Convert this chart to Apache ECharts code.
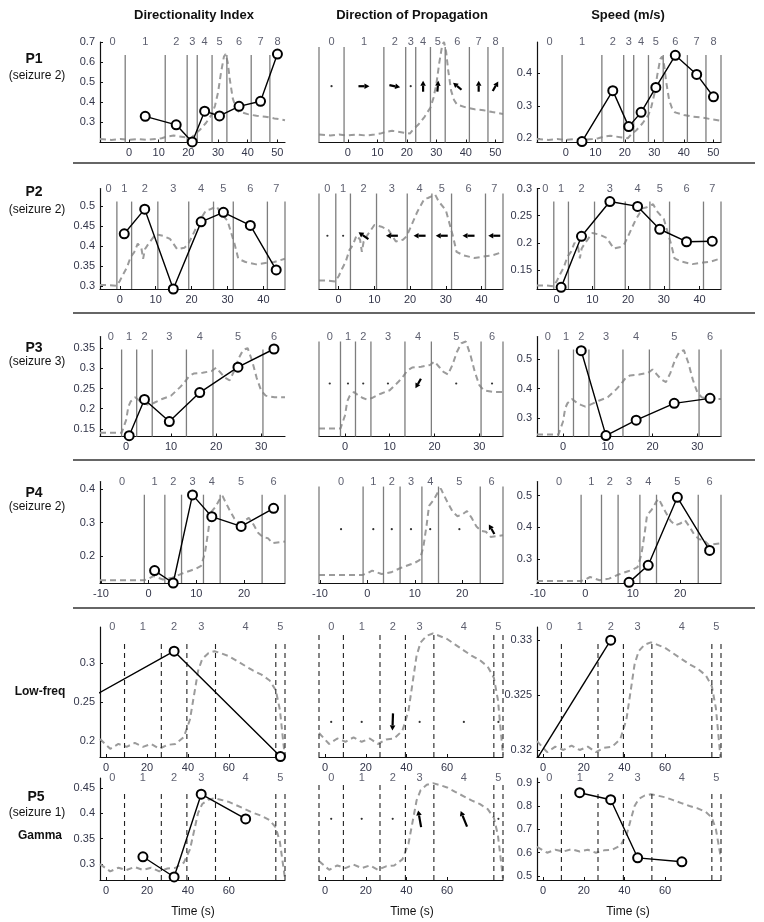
<!DOCTYPE html>
<html><head><meta charset="utf-8"><title>chart</title>
<script src="https://cdn.jsdelivr.net/npm/echarts@6.0.0/dist/echarts.min.js"></script>
<style>html,body{margin:0;padding:0;background:#fff;}#chart{width:764px;height:922px;}</style>
</head><body><div id="chart"></div>
<script>
// ================= DATA =================
// ---- P1 (seizure 2) ----
const P1_range = [-9.8, 52.6];
const P1_xticks = [0, 10, 20, 30, 40, 50];
const P1_bounds = [-1.3, 12.2, 19.6, 23.0, 28.0, 33.0, 41.2, 47.5];
const P1_di = [null, 0.33, 0.288, 0.203, 0.356, 0.332, 0.38, 0.405, 0.64];
const P1_speed = [null, 0.19, 0.347, 0.236, 0.28, 0.357, 0.456, 0.397, 0.328];
const P1_dirAngle = [null, 0, -12, null, 90, 85, 140, 90, 60];
const P1_powT = [-9.8,-6,-3,0,3,6,9,11,13,15,17,19,21,22,24,26,28,29,30,31,32,32.6,33.3,34,35,36,37,40,43,46,49,52.6];
const P1_pow  = [0.01,0,0.01,0,0.01,0,0.01,0.02,0.04,0.05,0.04,0.03,0.02,0.06,0.12,0.2,0.3,0.4,0.55,0.78,0.97,1,0.9,0.7,0.48,0.38,0.33,0.3,0.28,0.27,0.25,0.23];
const P1_diAxis = [0.2, 0.7], P1_diTicks = [0.3, 0.4, 0.5, 0.6, 0.7];
const P1_spAxis = [0.187, 0.497], P1_spTicks = [0.2, 0.3, 0.4];
const P1_powOnDI = [0.213, 0.64], P1_powOnSp = [0.195, 0.452], P1_powOnDir = [0.07, 1.0];

// ---- P2 (seizure 2) ----
const P2_range = [-5.5, 46];
const P2_xticks = [0, 10, 20, 30, 40];
const P2_bounds = [-0.8, 3.3, 10.6, 19.2, 26.1, 31.6, 41.1];
const P2_di = [null, 0.431, 0.493, 0.292, 0.461, 0.485, 0.452, 0.34];
const P2_speed = [null, 0.118, 0.212, 0.276, 0.267, 0.225, 0.202, 0.203];
const P2_dirAngle = [null, null, 145, 180, 180, 180, 180, 180];
const P2_powT = [-5.5,-3,-1,0,1,2,3,4,5,6,6.5,7,8,10,12,14,16,18,19,20,22,24,25,27,28,30,31,32,33,35,38,41,43,46];
const P2_pow  = [0.01,0.01,0,0.06,0.15,0.23,0.36,0.42,0.53,0.48,0.34,0.46,0.53,0.65,0.63,0.59,0.46,0.48,0.52,0.61,0.8,0.95,0.96,1,0.92,0.82,0.67,0.52,0.34,0.3,0.27,0.29,0.3,0.34];
const P2_diAxis = [0.292, 0.545], P2_diTicks = [0.3, 0.35, 0.4, 0.45, 0.5];
const P2_spAxis = [0.115, 0.3], P2_spTicks = [0.15, 0.2, 0.25, 0.3];
const P2_powOnDI = [0.3, 0.5], P2_powOnSp = [0.12, 0.271], P2_powOnDir = [0.075, 0.94];

// ---- P3 (seizure 3) ----
const P3_range = [-5.8, 35.3];
const P3_xticks = [0, 10, 20, 30];
const P3_bounds = [-1.0, 2.35, 5.8, 13.4, 19.3, 30.4];
const P3_di = [null, 0.133, 0.223, 0.168, 0.24, 0.303, 0.348];
const P3_speed = [null, null, 0.528, 0.241, 0.293, 0.35, 0.367];
const P3_dirAngle = [null, null, null, null, 240, null, null];
const P3_powT = [-5.8,-3,-1,0,0.5,1,2,3,4,5,6,8,10,12,13,14,15,17,19,20,21,22,23,24,25,26,27,28,29,30,31,33,35.3];
const P3_pow  = [0,0,0,0.15,0.31,0.37,0.42,0.38,0.35,0.33,0.35,0.40,0.44,0.54,0.60,0.67,0.70,0.71,0.73,0.77,0.71,0.65,0.62,0.73,0.88,0.98,1.0,0.85,0.65,0.5,0.44,0.42,0.42];
const P3_diAxis = [0.131, 0.379], P3_diTicks = [0.15, 0.2, 0.25, 0.3, 0.35];
const P3_spAxis = [0.238, 0.576], P3_spTicks = [0.3, 0.4, 0.5];
const P3_powOnDI = [0.14, 0.35], P3_powOnSp = [0.245, 0.53], P3_powOnDir = [0.08, 0.95];

// ---- P4 (seizure 2) ----
const P4_range = [-10.2, 28.6];
const P4_xticks = [-10, 0, 10, 20];
const P4_bounds = [-0.9, 3.4, 6.9, 11.5, 15.0, 23.8];
const P4_di = [null, 0.157, 0.12, 0.383, 0.318, 0.289, 0.343];
const P4_speed = [null, null, null, 0.226, 0.28, 0.495, 0.327];
const P4_dirAngle = [null, null, null, null, null, null, 120];
const P4_powT = [-10.2,-6,-3,-1,0,1,3,5,7,9,10,11,11.8,12.5,13,14,15,15.5,16,17,18,19,20,21,22,23,24,25,26,28.6];
const P4_pow  = [0,0,0,0,0.02,0.05,0.01,0.03,0.08,0.12,0.14,0.17,0.32,0.58,0.8,0.87,0.97,1.0,0.94,0.83,0.73,0.68,0.7,0.74,0.66,0.56,0.51,0.5,0.44,0.46];
const P4_diAxis = [0.12, 0.423], P4_diTicks = [0.2, 0.3, 0.4];
const P4_spAxis = [0.224, 0.545], P4_spTicks = [0.3, 0.4, 0.5];
const P4_powOnDI = [0.128, 0.38], P4_powOnSp = [0.23, 0.49], P4_powOnDir = [0.08, 0.93];

// ---- P5 (seizure 1) ----
const P5_range = [-3, 87.5];
const P5_segStart = -25;          // segment 0 begins before the visible window
const P5_xticks = [0, 20, 40, 60];
const P5_bounds = [9, 27, 39.5, 53.5, 83];
const P5_powT = [-3,2,6,10,14,18,22,26,30,34,38,41,43,45,47,50,53,56,60,64,68,72,76,80,83,85,86.5,87.5];
const P5_pow  = [0.1,0.0,0.05,0.02,0.06,0.02,0.05,0.0,0.04,0.05,0.12,0.3,0.55,0.8,0.92,0.98,1.0,0.98,0.95,0.9,0.85,0.8,0.76,0.7,0.6,0.4,0.1,-0.1];
// Low-freq
const LF_di = [0.255, null, 0.315, null, null, 0.18];
const LF_speed = [0.3177, null, 0.33, null, null, null];
const LF_dirAngle = [null, null, 268, null, null, null];
const LF_diAxis = [0.1795, 0.346], LF_diTicks = [0.2, 0.25, 0.3];
const LF_spAxis = [0.31936, 0.3312], LF_spTicks = [0.32, 0.325, 0.33];
const LF_powOnDI = [0.19, 0.315], LF_powOnSp = [0.3198, 0.3298], LF_powOnDir = [0.1, 0.95];
// Gamma
const GA_di = [null, 0.314, 0.274, 0.438, 0.389, null];
const GA_speed = [null, 0.857, 0.827, 0.578, 0.561, null];
const GA_dirAngle = [null, null, null, 100, 112, null];
const GA_diAxis = [0.268, 0.47], GA_diTicks = [0.3, 0.35, 0.4, 0.45];
const GA_spAxis = [0.483, 0.92], GA_spTicks = [0.5, 0.6, 0.7, 0.8, 0.9];
const GA_powOnDI = [0.285, 0.43], GA_powOnSp = [0.6, 0.85], GA_powOnDir = [0.1, 0.95];

// ================= BUILD =================
const ROWS = [
  {range:P1_range, xt:P1_xticks, bounds:P1_bounds, di:P1_di, sp:P1_speed, dir:P1_dirAngle, powT:P1_powT, pow:P1_pow,
   diAxis:P1_diAxis, diTicks:P1_diTicks, spAxis:P1_spAxis, spTicks:P1_spTicks, pDI:P1_powOnDI, pSp:P1_powOnSp, pDir:P1_powOnDir},
  {range:P2_range, xt:P2_xticks, bounds:P2_bounds, di:P2_di, sp:P2_speed, dir:P2_dirAngle, powT:P2_powT, pow:P2_pow,
   diAxis:P2_diAxis, diTicks:P2_diTicks, spAxis:P2_spAxis, spTicks:P2_spTicks, pDI:P2_powOnDI, pSp:P2_powOnSp, pDir:P2_powOnDir},
  {range:P3_range, xt:P3_xticks, bounds:P3_bounds, di:P3_di, sp:P3_speed, dir:P3_dirAngle, powT:P3_powT, pow:P3_pow,
   diAxis:P3_diAxis, diTicks:P3_diTicks, spAxis:P3_spAxis, spTicks:P3_spTicks, pDI:P3_powOnDI, pSp:P3_powOnSp, pDir:P3_powOnDir},
  {range:P4_range, xt:P4_xticks, bounds:P4_bounds, di:P4_di, sp:P4_speed, dir:P4_dirAngle, powT:P4_powT, pow:P4_pow,
   diAxis:P4_diAxis, diTicks:P4_diTicks, spAxis:P4_spAxis, spTicks:P4_spTicks, pDI:P4_powOnDI, pSp:P4_powOnSp, pDir:P4_powOnDir},
  {range:P5_range, segStart:P5_segStart, xt:P5_xticks, bounds:P5_bounds, di:LF_di, sp:LF_speed, dir:LF_dirAngle, powT:P5_powT, pow:P5_pow, dashed:true,
   diAxis:LF_diAxis, diTicks:LF_diTicks, spAxis:LF_spAxis, spTicks:LF_spTicks, pDI:LF_powOnDI, pSp:LF_powOnSp, pDir:LF_powOnDir},
  {range:P5_range, segStart:P5_segStart, xt:P5_xticks, bounds:P5_bounds, di:GA_di, sp:GA_speed, dir:GA_dirAngle, powT:P5_powT, pow:P5_pow, dashed:true,
   diAxis:GA_diAxis, diTicks:GA_diTicks, spAxis:GA_spAxis, spTicks:GA_spTicks, pDI:GA_powOnDI, pSp:GA_powOnSp, pDir:GA_powOnDir}
];

// layout (pixels / fractions)
const ROW_TB = [[42,142.5],[188.5,289],[336.5,436.5],[481.5,583],[627,757],[778,880]];
const ARROW_LEVEL = [0.56, 0.53, 0.53, 0.53, 0.27, 0.6];
const ARROW_LEN = [11, 12, 11, 11, 17, 17];
const COL1_RIGHT_EDGE = [false, true, false, true, true, true];
const COL_L = [100, 319, 537];
const COL_W = [185, 184, 184];
const FONT = "'Liberation Sans', Arial, sans-serif";
const TXT = '#33364a';

const option = {animation:false, backgroundColor:'#fff', grid:[], xAxis:[], yAxis:[], series:[], graphic:[]};

function segMids(start, end, bounds){
  const e = [start, ...bounds, end];
  const m = [];
  for (let i=0;i<e.length-1;i++) m.push((e[i]+e[i+1])/2);
  return m;
}

function arrowRenderer(L){
  return function(params, api){
    const p = api.coord([api.value(0), api.value(1)]);
    const a = api.value(2)*Math.PI/180;
    const hl = 5, hw = 2.8;
    const dx = Math.cos(a), dy = -Math.sin(a);
    const x1 = p[0]-dx*L/2, y1 = p[1]-dy*L/2, x2 = p[0]+dx*L/2, y2 = p[1]+dy*L/2;
    const bx = x2-dx*hl, by = y2-dy*hl, nx = -dy, ny = dx;
    return {type:'group', children:[
      {type:'line', shape:{x1:x1,y1:y1,x2:bx,y2:by}, style:{stroke:'#000', lineWidth:2.2}},
      {type:'polygon', shape:{points:[[x2,y2],[bx+nx*hw,by+ny*hw],[bx-nx*hw,by-ny*hw]]}, style:{fill:'#000'}}
    ]};
  };
}

function vlineItem(dashed){
  return function(params, api){
    const a = api.coord([api.value(0), api.value(1)]);
    const b = api.coord([api.value(0), api.value(2)]);
    return {type:'line', shape:{x1:a[0],y1:a[1],x2:b[0],y2:b[1]},
      style:{stroke: dashed ? '#222' : '#7d7d7d', lineWidth: dashed ? 1.1 : 1.3, lineDash: dashed ? [5,4] : null}};
  };
}

function addPanel(ri, col){
  const r = ROWS[ri];
  const tb = ROW_TB[ri];
  const gi = option.grid.length;
  const isDir = col === 1;
  option.grid.push({left:COL_L[col], top:tb[0], width:COL_W[col], height:tb[1]-tb[0]});
  option.xAxis.push({type:'value', gridIndex:gi, min:r.range[0], max:r.range[1],
    axisLine:{show:true, onZero:false, lineStyle:{color:'#111', width:1.2}},
    axisTick:{show:true, inside:true, length:3, customValues:r.xt, lineStyle:{color:'#111'}},
    axisLabel:{show:true, customValues:r.xt, fontSize:11, color:TXT, margin:5, fontFamily:FONT},
    splitLine:{show:false}});
  const yr = isDir ? [0,1] : (col===0 ? r.diAxis : r.spAxis);
  const yt = isDir ? [] : (col===0 ? r.diTicks : r.spTicks);
  const yi = option.yAxis.length;
  option.yAxis.push({type:'value', gridIndex:gi, min:yr[0], max:yr[1], show:!isDir,
    axisLine:{show:true, onZero:false, lineStyle:{color:'#111', width:1.2}},
    axisTick:{show:true, inside:true, length:3, customValues:yt, lineStyle:{color:'#111'}},
    axisLabel:{show:true, customValues:yt, fontSize:11, color:TXT, margin:5, fontFamily:FONT, formatter:v=>String(v)},
    splitLine:{show:false}});
  const pm = col===0 ? r.pDI : (isDir ? r.pDir : r.pSp);
  const k = pm[1]-pm[0];
  option.yAxis.push({type:'value', gridIndex:gi, show:false, min:(yr[0]-pm[0])/k, max:(yr[1]-pm[0])/k,
    axisLine:{onZero:false}, splitLine:{show:false}});

  // dashed power curve
  option.series.push({type:'line', xAxisIndex:gi, yAxisIndex:yi+1, data:r.powT.map((t,i)=>[t, r.pow[i]]),
    symbol:'none', silent:true, z:1, lineStyle:{color:'#9b9b9b', width:2, type:[6,4]}});

  // segment boundaries
  const topFrac = isDir ? 0.95 : 0.87;
  const yTop = yr[0] + topFrac*(yr[1]-yr[0]);
  let edges;
  if (isDir) edges = [r.range[0], r.range[1]];
  else if (col === 0) edges = COL1_RIGHT_EDGE[ri] ? [r.range[1]] : [];
  else edges = [r.range[1]];
  const bl = r.bounds.concat(edges).map(b=>[b, yr[0], yTop]);
  option.series.push({type:'custom', xAxisIndex:gi, yAxisIndex:yi, data:bl, renderItem:vlineItem(!!r.dashed),
    encode:{x:0, y:[1,2]}, silent:true, z:2, clip:false});

  // segment numbers (centred in the visible part of each segment)
  const labMids = segMids(r.range[0], r.range[1], r.bounds);
  option.series.push({type:'scatter', xAxisIndex:gi, yAxisIndex:yi, data:labMids.map((m,i)=>[m, yr[1], i]),
    symbolSize:1, itemStyle:{color:'rgba(0,0,0,0)'}, silent:true, clip:false, z:3,
    label:{show:true, position:'inside', formatter:p=>String(p.value[2]), fontSize:11, color:TXT, fontFamily:FONT}});

  // segment centre times (segment 0 may start before the window)
  const mids = segMids(r.segStart != null ? r.segStart : r.range[0], r.range[1], r.bounds);
  if (!isDir){
    const vals = col===0 ? r.di : r.sp;
    const d = [];
    vals.forEach((v,i)=>{ if (v!=null) d.push([mids[i], v]); });
    option.series.push({type:'line', xAxisIndex:gi, yAxisIndex:yi, data:d, symbol:'emptyCircle', symbolSize:9,
      clip:true, z:5, silent:true,
      itemStyle:{color:'#000', borderColor:'#000', borderWidth:1.4}, lineStyle:{color:'#000', width:1.4}});
  } else {
    const level = ARROW_LEVEL[ri];
    const arrows = [], dots = [];
    r.dir.forEach((a,i)=>{ if (a==null) dots.push([labMids[i], level]); else arrows.push([labMids[i], level, a]); });
    option.series.push({type:'scatter', xAxisIndex:gi, yAxisIndex:yi, data:dots, symbolSize:2.2,
      itemStyle:{color:'#000'}, silent:true, z:4});
    option.series.push({type:'custom', xAxisIndex:gi, yAxisIndex:yi, data:arrows, renderItem:arrowRenderer(ARROW_LEN[ri]),
      encode:{x:0, y:1}, silent:true, z:5, clip:false});
  }
}

for (let ri=0; ri<ROWS.length; ri++) for (let c=0;c<3;c++) addPanel(ri, c);

// texts
function txt(s, x, y, size, bold, align){
  return {type:'text', silent:true, style:{text:s, x:x, y:y, fill:'#111',
    font:(bold?'bold ':'')+size+'px '+FONT, textAlign:align||'center', textVerticalAlign:'middle',
    align:align||'center', verticalAlign:'middle'}};
}
const G = option.graphic;
G.push(txt('Directionality Index', 194, 15, 13, true));
G.push(txt('Direction of Propagation', 412, 15, 13, true));
G.push(txt('Speed (m/s)', 628, 15, 13, true));
const rowLab = [['P1','(seizure 2)',59,76],['P2','(seizure 2)',192,210],['P3','(seizure 3)',348,362],['P4','(seizure 2)',493,507]];
rowLab.forEach(l=>{ G.push(txt(l[0], 34, l[2], 14, true)); G.push(txt(l[1], 37, l[3], 12, false)); });
G.push(txt('Low-freq', 40, 692, 12, true));
G.push(txt('P5', 36, 797, 14, true));
G.push(txt('(seizure 1)', 37, 813, 12, false));
G.push(txt('Gamma', 40, 836, 12, true));
[193, 412, 628].forEach(x=>G.push(txt('Time (s)', x, 912, 12, false)));
[163, 313, 460, 608].forEach(y=>G.push({type:'line', silent:true, shape:{x1:73,y1:y,x2:755,y2:y}, style:{stroke:'#333', lineWidth:1.5}}));

const chart = echarts.init(document.getElementById('chart'), null, {renderer:'canvas'});
chart.setOption(option);
</script></body></html>
